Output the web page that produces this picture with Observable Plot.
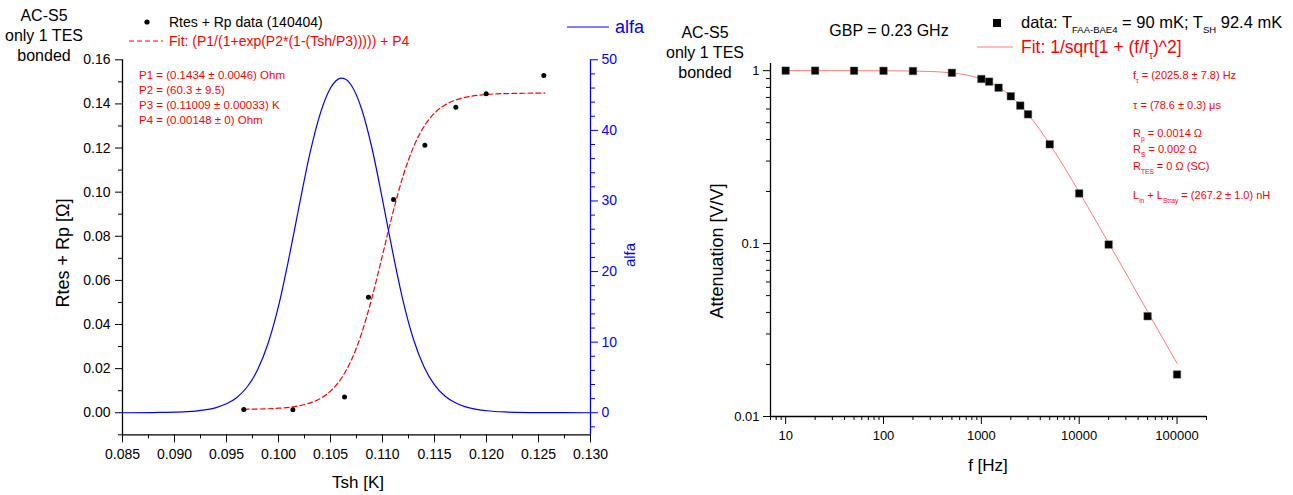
<!DOCTYPE html>
<html><head><meta charset="utf-8">
<script src="https://cdn.jsdelivr.net/npm/d3@7"></script>
<script src="https://cdn.jsdelivr.net/npm/@observablehq/plot@0.6"></script>
<style>
html,body{margin:0;padding:0;background:#fff;}
#wrap{position:relative;width:1293px;height:495px;overflow:hidden;font-family:"Liberation Sans",Arial,sans-serif;background:#fff;}
#wrap > svg{position:absolute;top:0;}
</style></head><body><div id="wrap"></div>
<script>
// ---------- Left panel data ----------
const tshData = [0.09666, 0.10138, 0.10635, 0.10865, 0.11106, 0.11407, 0.11705, 0.11997, 0.12551];
const rData   = [0.0015, 0.0014, 0.0071, 0.0524, 0.0967, 0.1213, 0.1385, 0.1446, 0.1529];

const fitT = [0.0967, 0.098, 0.100, 0.101, 0.102, 0.103, 0.104, 0.105, 0.106, 0.107, 0.108, 0.109, 0.110, 0.111, 0.112, 0.113, 0.114, 0.115, 0.116, 0.117, 0.118, 0.120, 0.122, 0.1256];
const fitR = [0.00157, 0.00167, 0.00205, 0.00246, 0.00317, 0.00437, 0.00641, 0.0098, 0.0153, 0.0238, 0.0361, 0.0524, 0.0714, 0.0907, 0.1076, 0.1207, 0.1298, 0.1358, 0.1395, 0.1417, 0.1430, 0.1443, 0.1447, 0.1449];

const alfaT = [0.085, 0.088, 0.090, 0.092, 0.094, 0.095, 0.096, 0.097, 0.098, 0.099, 0.100, 0.101, 0.102, 0.103, 0.104, 0.105, 0.1055, 0.106, 0.1065, 0.107, 0.108, 0.109, 0.110, 0.111, 0.112, 0.113, 0.114, 0.115, 0.116, 0.117, 0.118, 0.120, 0.122, 0.125, 0.130];
const alfaV = [0.0, 0.03, 0.08, 0.24, 0.73, 1.27, 2.17, 3.68, 6.12, 9.84, 15.1, 21.9, 29.4, 36.6, 42.3, 46.0, 47.0, 47.4, 47.2, 46.4, 43.0, 37.4, 30.2, 22.6, 15.7, 10.3, 6.49, 3.96, 2.38, 1.41, 0.83, 0.28, 0.10, 0.02, 0.0];

const xMajorL = [0.085, 0.090, 0.095, 0.100, 0.105, 0.110, 0.115, 0.120, 0.125, 0.130];
const xMinorL = [0.0875, 0.0925, 0.0975, 0.1025, 0.1075, 0.1125, 0.1175, 0.1225, 0.1275];
const yMajorL = [0, 0.02, 0.04, 0.06, 0.08, 0.10, 0.12, 0.14, 0.16];
const yMinorL = [-0.01, 0.01, 0.03, 0.05, 0.07, 0.09, 0.11, 0.13, 0.15];
const alfaMajor = [0, 10, 20, 30, 40, 50];
const alfaMinor = [-2, 2, 4, 6, 8, 12, 14, 16, 18, 22, 24, 26, 28, 32, 34, 36, 38, 42, 44, 46, 48];

// ---------- Right panel data ----------
const freq = [10, 20, 50, 100, 200, 500, 1000, 1200, 1500, 2000, 2500, 3000, 5000, 10000, 20000, 50000, 100000];
const atten = [1.0, 1.0, 0.999, 0.998, 0.995, 0.972, 0.895, 0.864, 0.797, 0.711, 0.628, 0.559, 0.375, 0.195, 0.0987, 0.038, 0.0175];

const fitF = [10, 50, 100, 200, 300, 500, 700, 1000, 1500, 2000, 2500, 3000, 4000, 5000, 7000, 10000, 15000, 20000, 30000, 50000, 70000, 100000];
const fitA = [1.0, 0.9997, 0.9988, 0.9952, 0.9892, 0.9708, 0.9451, 0.8967, 0.8037, 0.7116, 0.6297, 0.5595, 0.4519, 0.3755, 0.2780, 0.1985, 0.1338, 0.1008, 0.0674, 0.0405, 0.0289, 0.0203];

const xMajorR = [10, 100, 1000, 10000, 100000];
const xMinorR = [7, 8, 9, 20, 30, 40, 50, 60, 70, 80, 90, 200, 300, 400, 500, 600, 700, 800, 900, 2000, 3000, 4000, 5000, 6000, 7000, 8000, 9000, 20000, 30000, 40000, 50000, 60000, 70000, 80000, 90000, 200000];
const yMajorR = [0.01, 0.1, 1];
const yMinorR = [0.02, 0.03, 0.04, 0.05, 0.06, 0.07, 0.08, 0.09, 0.2, 0.3, 0.4, 0.5, 0.6, 0.7, 0.8, 0.9];

// ---------- build ----------
const wrap = document.getElementById("wrap");
const FONT = "'Liberation Sans', Arial, sans-serif";
const baseStyle = (color, size, left) => ({
  fontFamily: FONT, fontSize: size + "px", color: color, background: "transparent",
  position: "absolute", left: left + "px", top: "0px", overflow: "visible"
});

const rSeries = tshData.map((t, i) => ({t, r: rData[i]}));
const fitSeries = fitT.map((t, i) => ({t, r: fitR[i]}));
const alfaSeries = alfaT.map((t, i) => ({t, a: alfaV[i]}));
const attSeries = freq.map((f, i) => ({f, a: atten[i]}));
const fitASeries = fitF.map((f, i) => ({f, a: fitA[i]}));

const dimL = {width: 660, height: 495, marginLeft: 122, marginRight: 70, marginTop: 59.3, marginBottom: 60.7};

const leftPlot = Plot.plot({
  ...dimL,
  style: baseStyle("#000", 14, 0),
  x: {domain: [0.085, 0.130], axis: null},
  y: {domain: [-0.01, 0.16], axis: null},
  marks: [
    Plot.ruleX([0.085], {stroke: "#000", strokeWidth: 1.3}),
    Plot.ruleY([-0.01], {stroke: "#000", strokeWidth: 1.3}),
    Plot.axisX({ticks: xMajorL, tickSize: 8, tickPadding: 6, tickFormat: d3.format(".3f"), label: null, fontSize: 14}),
    Plot.axisX({ticks: xMinorL, tickSize: 4, tickFormat: () => "", label: null}),
    Plot.axisY({ticks: yMajorL, tickSize: 7, tickPadding: 5, tickFormat: d3.format(".2f"), label: null, fontSize: 14}),
    Plot.axisY({ticks: yMinorL, tickSize: 4, tickFormat: () => "", label: null}),
    Plot.line(fitSeries, {x: "t", y: "r", stroke: "#ff0000", strokeWidth: 1.2, strokeDasharray: "5,3", curve: "monotone-x"}),
    Plot.dot(rSeries, {x: "t", y: "r", r: 2.5, fill: "#000"})
  ]
});
wrap.appendChild(leftPlot);

const alfaPlot = Plot.plot({
  ...dimL,
  style: baseStyle("#0000ff", 14, 0),
  x: {domain: [0.085, 0.130], axis: null},
  y: {domain: [-3.125, 50], axis: null},
  marks: [
    Plot.ruleX([0.130], {stroke: "#0000ff", strokeWidth: 1.3}),
    Plot.axisY({anchor: "right", ticks: alfaMajor, tickSize: 7, tickPadding: 4, tickFormat: d3.format("d"), label: null, fontSize: 14}),
    Plot.axisY({anchor: "right", ticks: alfaMinor, tickSize: 4, tickFormat: () => "", label: null}),
    Plot.line(alfaSeries, {x: "t", y: "a", stroke: "#0000ff", strokeWidth: 1.2, curve: "monotone-x"})
  ]
});
wrap.appendChild(alfaPlot);

const rightPlot = Plot.plot({
  width: 633, height: 495, marginLeft: 110, marginRight: 87, marginTop: 63, marginBottom: 79,
  style: baseStyle("#000", 13, 660),
  x: {type: "log", domain: [7, 200000], axis: null},
  y: {type: "log", domain: [0.01, 1.1], axis: null},
  marks: [
    Plot.ruleX([7], {stroke: "#000", strokeWidth: 1.3}),
    Plot.ruleY([0.01], {stroke: "#000", strokeWidth: 1.3}),
    Plot.axisX({ticks: xMajorR, tickSize: 8, tickPadding: 6, tickFormat: d3.format("d"), label: null, fontSize: 13}),
    Plot.axisX({ticks: xMinorR, tickSize: 4, tickFormat: () => "", label: null}),
    Plot.axisY({ticks: yMajorR, tickSize: 7, tickPadding: 4, tickFormat: d3.format("~g"), label: null, fontSize: 13}),
    Plot.axisY({ticks: yMinorR, tickSize: 4, tickFormat: () => "", label: null}),
    Plot.line(fitASeries, {x: "f", y: "a", stroke: "#ff7b7b", strokeWidth: 1, curve: "monotone-x"}),
    Plot.dot(attSeries, {x: "f", y: "a", symbol: "square", r: 4.2, fill: "#000", stroke: "#555", strokeWidth: 0.5})
  ]
});
wrap.appendChild(rightPlot);

// ---------- overlay texts & legend glyphs ----------
const ov = d3.select(wrap).append("svg")
  .attr("width", 1293).attr("height", 495)
  .style("position", "absolute").style("left", "0px").style("top", "0px")
  .style("font-family", FONT).style("pointer-events", "none");

function addText(x, y, parts, o = {}) {
  const size = o.size || 14;
  const t = ov.append("text").attr("x", x).attr("y", y)
    .attr("font-size", size).attr("fill", o.fill || "#000")
    .attr("text-anchor", o.anchor || "start");
  if (o.rotate) t.attr("transform", `rotate(${o.rotate},${x},${y})`);
  let shifted = 0;
  const list = typeof parts === "string" ? [parts] : parts;
  for (const p of list) {
    const [s, sub] = Array.isArray(p) ? p : [p, false];
    const target = sub ? size * 0.33 : 0;
    const ts = t.append("tspan").text(s).attr("dy", target - shifted);
    if (sub) ts.attr("font-size", o.subSize || size * 0.6);
    shifted = target;
  }
  return t;
}

// Left panel
addText(44, 20.6, "AC-S5", {size: 16, anchor: "middle"});
addText(44, 40.6, "only 1 TES", {size: 16, anchor: "middle"});
addText(44, 60.6, "bonded", {size: 16, anchor: "middle"});

ov.append("circle").attr("cx", 147).attr("cy", 22).attr("r", 2.6).attr("fill", "#000");
addText(169, 27, "Rtes + Rp data (140404)", {size: 14});
ov.append("line").attr("x1", 129).attr("x2", 163).attr("y1", 41).attr("y2", 41)
  .attr("stroke", "#ff0000").attr("stroke-width", 1.2).attr("stroke-dasharray", "5,3");
addText(169, 46, "Fit: (P1/(1+exp(P2*(1-(Tsh/P3))))) + P4", {size: 14, fill: "#ff0000"});
ov.append("line").attr("x1", 567).attr("x2", 609).attr("y1", 27).attr("y2", 27)
  .attr("stroke", "#0000ff").attr("stroke-width", 1.2);
addText(615, 33.3, "alfa", {size: 18, fill: "#0000ff"});

const pLines = ["P1 = (0.1434 \u00b1 0.0046) Ohm", "P2 = (60.3 \u00b1 9.5)", "P3 = (0.11009 \u00b1 0.00033) K", "P4 = (0.00148 \u00b1 0) Ohm"];
const pY = [79, 94, 108.5, 124];
pLines.forEach((s, i) => addText(139, pY[i], s, {size: 11.5, fill: "#ff0000"}));

addText(69.3, 253, "Rtes + Rp [\u03a9]", {size: 18, anchor: "middle", rotate: -90});
addText(358, 488, "Tsh [K]", {size: 17, anchor: "middle"});
addText(635, 255, "alfa", {size: 15, anchor: "middle", rotate: -90, fill: "#0000ff"});

// Right panel
addText(705, 37.6, "AC-S5", {size: 16, anchor: "middle"});
addText(705, 57.6, "only 1 TES", {size: 16, anchor: "middle"});
addText(705, 77.6, "bonded", {size: 16, anchor: "middle"});
addText(889, 35.6, "GBP = 0.23 GHz", {size: 16, anchor: "middle"});

ov.append("rect").attr("x", 993).attr("y", 19).attr("width", 8).attr("height", 8).attr("fill", "#000");
addText(1021, 28, ["data: T", ["FAA-BAE4", true], " = 90 mK; T", ["SH", true], " 92.4 mK"], {size: 16.5, subSize: 9.5});
ov.append("line").attr("x1", 977).attr("x2", 1013).attr("y1", 47).attr("y2", 47)
  .attr("stroke", "#ff7b7b").attr("stroke-width", 1);
addText(1021, 53, ["Fit: 1/sqrt[1 + (f/f", ["\u03c4", true], ")^2]"], {size: 17.5, fill: "#ff0000"});

const ann = [
  [["f", ["\u03c4", true], " = (2025.8 \u00b1 7.8) Hz"], 75],
  [["\u03c4 = (78.6 \u00b1 0.3) \u03bcs"], 105],
  [["R", ["p", true], " = 0.0014 \u03a9"], 133],
  [["R", ["S", true], " = 0.002 \u03a9"], 149],
  [["R", ["TES", true], " = 0 \u03a9 (SC)"], 166],
  [["L", ["in", true], " + L", ["Stray", true], " = (267.2 \u00b1 1.0) nH"], 195]
];
ann.forEach(([parts, cy]) => addText(1133, cy + 3.9, parts, {size: 11, fill: "#ff0000"}));

addText(723.3, 251, "Attenuation [V/V]", {size: 18, anchor: "middle", rotate: -90});
addText(988, 471, "f [Hz]", {size: 17, anchor: "middle"});
</script>
</body></html>
